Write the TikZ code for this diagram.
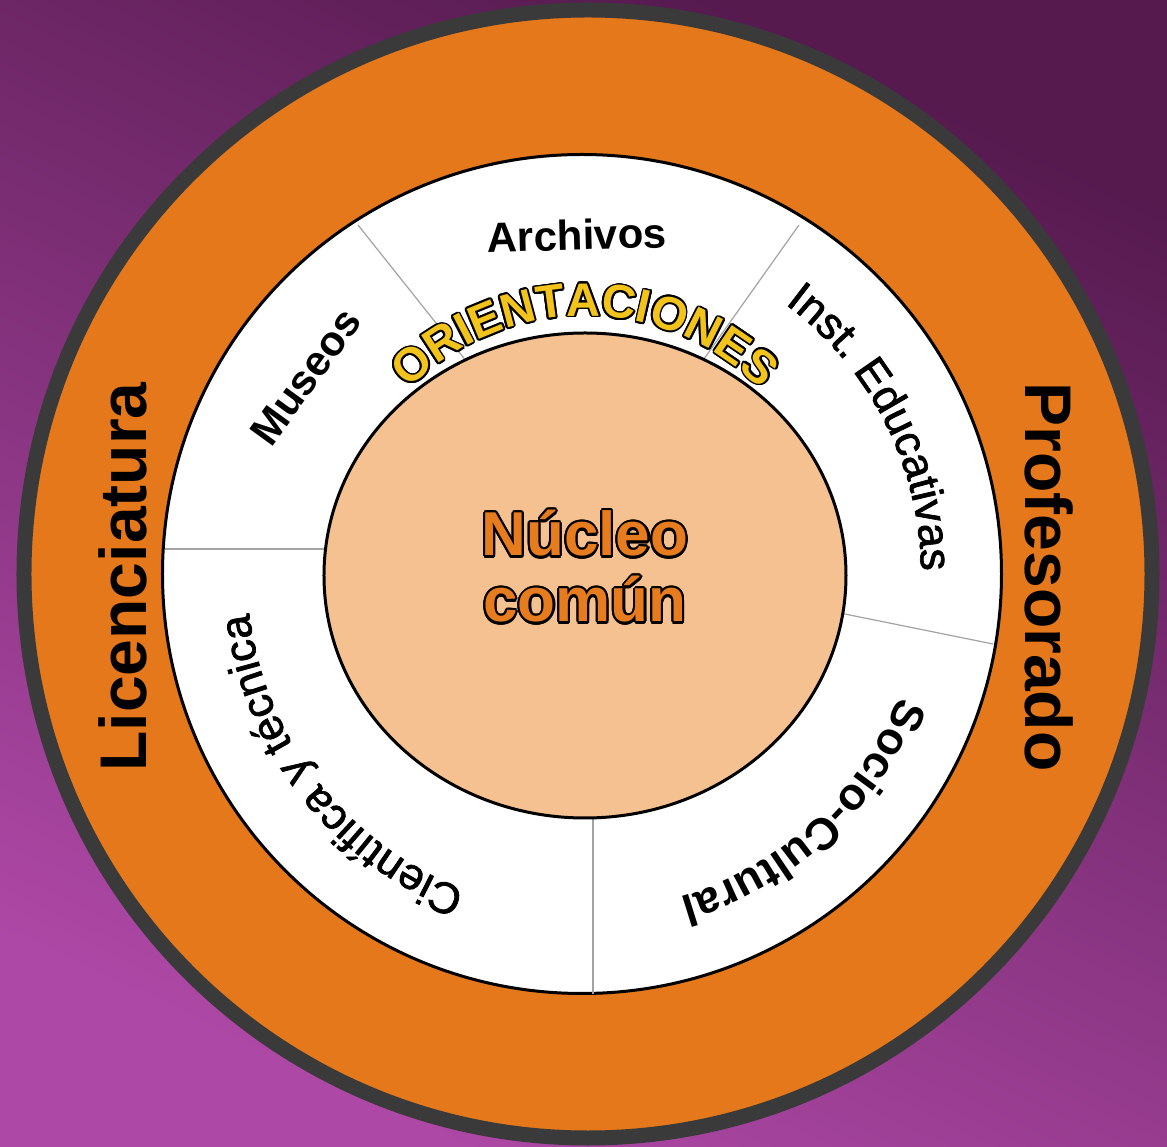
\documentclass[tikz,border=0pt]{standalone}
\usepackage{fontspec}
\setmainfont{Liberation Sans}
\newfontfamily\mediumsans[FakeBold=1.6]{Liberation Sans}
\usepackage{contour}
\usetikzlibrary{decorations.text}

\definecolor{bgdark}{HTML}{561A4F}
\definecolor{bglight}{HTML}{AE48A6}
\definecolor{ringorange}{HTML}{E4781A}
\definecolor{rimgray}{HTML}{3A3A3A}
\definecolor{corepeach}{HTML}{F5C190}
\definecolor{orientyellow}{HTML}{F2C31B}
\definecolor{coreorange}{HTML}{E67C1E}
\definecolor{splitgray}{HTML}{A3A3A3}

\newcommand{\bandfont}{\fontsize{66}{76}\selectfont\bfseries}
\newcommand{\ringfont}{\fontsize{44}{50}\selectfont\mediumsans}
\newcommand{\ringbold}{\fontsize{42}{48}\selectfont\bfseries}
\newcommand{\socialfont}{\fontsize{45}{50}\selectfont\bfseries}
\newcommand{\orientfont}{\fontsize{47}{52}\selectfont\bfseries}
\newcommand{\corefont}{\fontsize{62}{70}\selectfont\bfseries}
\contourlength{1.8pt}

\begin{document}
\begin{tikzpicture}[x=1pt,y=1pt,
	bandlabel/.style={font=\bandfont, anchor=base, inner sep=0pt},
	ringlabel/.style={font=\ringbold, anchor=base, inner sep=0pt},
	ringarc/.style={decorate, decoration={text along path, text align=center, text={#1}}},
	orientletter/.style={font=\orientfont, text=orientyellow, anchor=base, inner sep=0pt},
	corelabel/.style={font=\corefont, text=coreorange, anchor=base, inner sep=0pt}]

	% background
	\useasboundingbox (-585,-573) rectangle (582,574);
	\shade [top color=bgdark, bottom color=bglight, shading angle=-25] (-585,-573) rectangle (582,574);

	% rings
	\draw [fill=ringorange, draw=rimgray, line width=15pt] (3,0) circle (564);
	\draw [fill=white, draw=black, line width=3pt] (-3,0) circle (419.5);

	% dividers between the orientations
	\coordinate (d1a) at (-227,349);
	\coordinate (d1b) at (-110,202);
	\coordinate (d2a) at (214,349);
	\coordinate (d2b) at (109,201);
	\coordinate (d3a) at (408,-70);
	\coordinate (d3b) at (245,-37);
	\coordinate (d4a) at (8,-420);
	\coordinate (d4b) at (8,-236);
	\coordinate (d5a) at (-420,25);
	\coordinate (d5b) at (-250,25);

	\draw [splitgray, line width=1.2pt] (d1a) -- (d1b);
	\draw [splitgray, line width=1.2pt] (d2a) -- (d2b);
	\draw [splitgray, line width=1.2pt] (d3a) -- (d3b);
	\draw [splitgray, line width=1.2pt] (d4a) -- (d4b);
	\draw [splitgray, line width=1.2pt] (d5a) -- (d5b);

	% core
	\draw [fill=corepeach, draw=black, line width=3pt] (0,-1.5) ellipse [x radius=261, y radius=242.5];

	% band labels
	\node [bandlabel, rotate=90] (lic) at (-438,-3) {Licenciatura};
	\node [bandlabel, rotate=-90] (prof) at (440,-3) {Profesorado};

	% orientations
	\node [ringlabel, rotate=1.5] (arch) at (-7.5,324) {Archivos};
	\node [ringlabel, rotate=54] (mus) at (-268,189) {Museos};
	\path [ringarc={|\ringfont|Inst. Educativas}] (62:336) arc [start angle=62, end angle=-8, radius=336];
	\path [ringarc={|\socialfont|Socio-Cultural}] (-11.5:337) arc [start angle=-11.5, end angle=-83.5, radius=337];
	\path [ringarc={|\ringfont|Científica y técnica}] (255.5:338) arc [start angle=255.5, end angle=180.5, radius=338];

	\foreach \ch/\ang [count=\k] in {O/131,R/122.9,I/117.4,E/112.3,N/104.8,T/97.5,A/90.3,C/82.5,I/77.1,O/71.3,N/63.2,E/55.7,S/48.4}
		\path (0,10) ++(\ang:248) node [orientletter, rotate=\ang-90] (or\k) {\contour{black}{\ch}};

	\node [corelabel] (core1) at (0,18) {\contourlength{2.2pt}\contour{black}{Núcleo}};
	\node [corelabel] (core2) at (0,-48) {\contourlength{2.2pt}\contour{black}{común}};
\end{tikzpicture}
\end{document}
